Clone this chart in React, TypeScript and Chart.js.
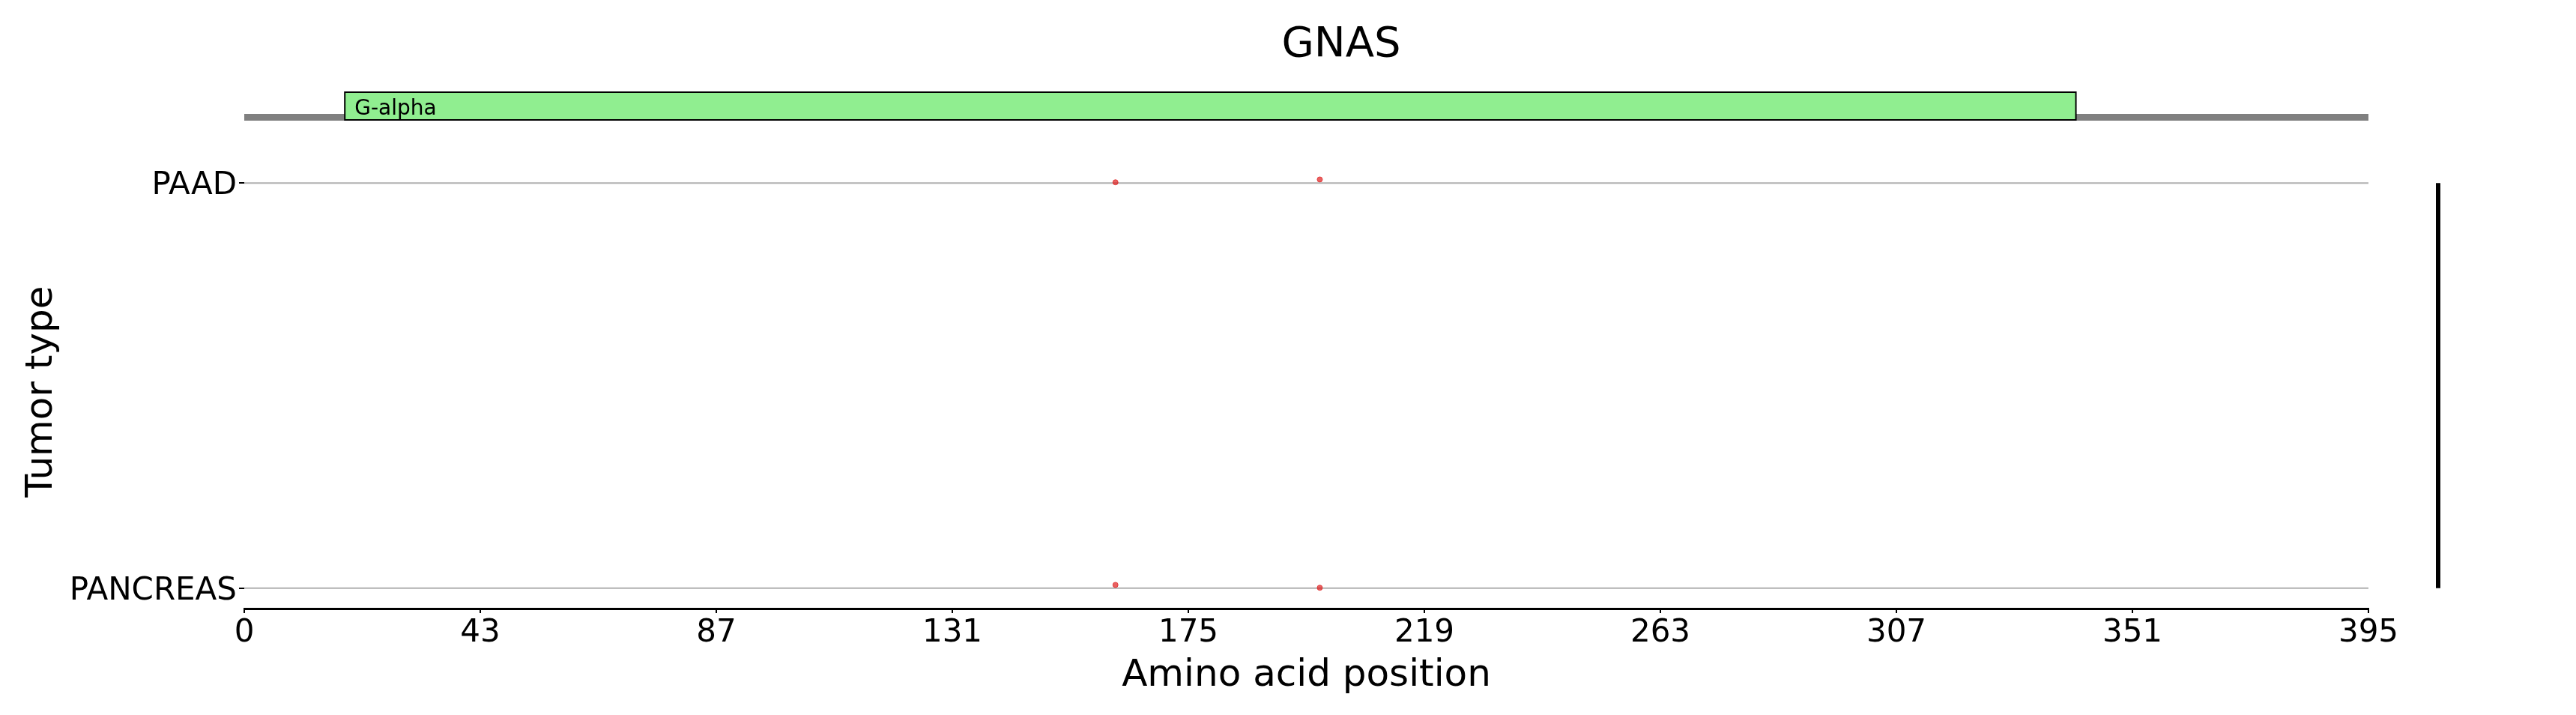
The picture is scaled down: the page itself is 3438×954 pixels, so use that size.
import React, { useEffect, useRef } from 'react';
import { Chart, registerables } from 'chart.js';
Chart.register(...registerables);

// ---------- data ----------
const GENE = 'GNAS';
const PROTEIN_LENGTH = 395;
const DOMAIN_NAMES = ['G-alpha'];
const DOMAIN_STARTS = [18.7];
const DOMAIN_ENDS = [340.6];
const TUMOR_TYPES = ['PAAD', 'PANCREAS'];
const PAAD_POSITIONS = [162, 200];
const PAAD_JITTER = [-0.002, -0.009];
const PANCREAS_POSITIONS = [162, 200];
const PANCREAS_JITTER = [-0.008, -0.001];
const X_TICK_LABELS = ['0', '43', '87', '131', '175', '219', '263', '307', '351', '395'];
const X_TITLE = 'Amino acid position';
const Y_TITLE = 'Tumor type';

const FONT = "'DejaVu Sans', sans-serif";
const POINT_COLOR = 'rgba(222, 30, 30, 0.7)';

const overlayPlugin = {
  id: 'overlay',
  afterDraw(chart: any) {
    const ctx = chart.ctx;
    const area = chart.chartArea;
    const xs = chart.scales.x;
    const ys = chart.scales.y;
    ctx.save();

    // protein backbone
    const bx0 = xs.getPixelForValue(0);
    const bx1 = xs.getPixelForValue(PROTEIN_LENGTH);
    ctx.fillStyle = '#808080';
    ctx.fillRect(bx0, area.top - 65, bx1 - bx0, 9);

    // domains
    DOMAIN_NAMES.forEach((name, i) => {
      const dx0 = xs.getPixelForValue(DOMAIN_STARTS[i]);
      const dx1 = xs.getPixelForValue(DOMAIN_ENDS[i]);
      const top = area.top - 94;
      const h = 37;
      ctx.fillStyle = '#90EE90';
      ctx.fillRect(dx0, top, dx1 - dx0, h);
      ctx.strokeStyle = '#000000';
      ctx.lineWidth = 2;
      ctx.strokeRect(dx0, top, dx1 - dx0, h);
      ctx.fillStyle = '#000000';
      ctx.font = `28px ${FONT}`;
      ctx.textAlign = 'left';
      ctx.textBaseline = 'alphabetic';
      ctx.fillText(name, dx0 + 13, top + 30);
    });

    // vertical scale bar on the right
    const vx = area.right + 93;
    ctx.strokeStyle = '#000000';
    ctx.lineWidth = 6;
    ctx.lineCap = 'butt';
    ctx.beginPath();
    ctx.moveTo(vx, ys.getPixelForValue(0));
    ctx.lineTo(vx, ys.getPixelForValue(TUMOR_TYPES.length - 1));
    ctx.stroke();

    // title
    ctx.fillStyle = '#000000';
    ctx.font = `56px ${FONT}`;
    ctx.textAlign = 'center';
    ctx.textBaseline = 'alphabetic';
    ctx.fillText(GENE, (area.left + vx) / 2, 75);

    // x title
    ctx.font = `50px ${FONT}`;
    ctx.fillText(X_TITLE, (area.left + area.right) / 2, 915);

    // y title
    ctx.translate(69, (ys.getPixelForValue(0) + ys.getPixelForValue(TUMOR_TYPES.length - 1)) / 2 + 8);
    ctx.rotate(-Math.PI / 2);
    ctx.fillText(Y_TITLE, 0, 0);

    ctx.restore();
  },
};

export default function App() {
  const canvasRef = useRef<HTMLCanvasElement | null>(null);

  useEffect(() => {
    document.body.style.margin = '0';
    document.body.style.overflow = 'hidden';
    const canvas = canvasRef.current;
    if (!canvas) return;

    const paadPts = PAAD_POSITIONS.map((p, i) => ({ x: p, y: 0 + PAAD_JITTER[i] }));
    const pancPts = PANCREAS_POSITIONS.map((p, i) => ({ x: p, y: 1 + PANCREAS_JITTER[i] }));

    const laneDatasets = TUMOR_TYPES.map((t, i) => ({
      type: 'line' as const,
      label: t + ' lane',
      data: [
        { x: 0, y: i },
        { x: PROTEIN_LENGTH, y: i },
      ],
      borderColor: '#b0b0b0',
      borderWidth: 2,
      pointRadius: 0,
      fill: false,
    }));

    const chart = new Chart(canvas, {
      type: 'scatter',
      data: {
        datasets: [
          {
            label: 'PAAD',
            data: paadPts,
            backgroundColor: POINT_COLOR,
            borderColor: POINT_COLOR,
            borderWidth: 1,
            pointRadius: 3.5,
          },
          {
            label: 'PANCREAS',
            data: pancPts,
            backgroundColor: POINT_COLOR,
            borderColor: POINT_COLOR,
            borderWidth: 1,
            pointRadius: 3.5,
          },
          ...(laneDatasets as any[]),
        ],
      },
      options: {
        animation: false,
        responsive: false,
        devicePixelRatio: 1,
        layout: { padding: { top: 217, right: 277, left: 0, bottom: 0 } },
        plugins: {
          legend: { display: false },
          tooltip: { enabled: false },
          title: { display: false },
        },
        scales: {
          x: {
            type: 'linear',
            position: 'bottom',
            min: 0,
            max: PROTEIN_LENGTH,
            afterBuildTicks: (scale: any) => {
              scale.ticks = X_TICK_LABELS.map((_, i) => ({
                value: (i * PROTEIN_LENGTH) / (X_TICK_LABELS.length - 1),
              }));
            },
            afterFit: (scale: any) => {
              scale.height = 142;
            },
            ticks: {
              autoSkip: false,
              maxRotation: 0,
              minRotation: 0,
              padding: 2,
              color: '#000000',
              font: { family: FONT, size: 42 },
              callback: (_v: any, i: number) => X_TICK_LABELS[i],
            },
            grid: {
              drawOnChartArea: false,
              drawTicks: true,
              tickLength: 6,
              color: '#000000',
              lineWidth: 2,
            },
            border: { display: true, color: '#000000', width: 3 },
          },
          y: {
            type: 'linear',
            position: 'left',
            reverse: true,
            min: -0.0505,
            max: 1.0505,
            afterBuildTicks: (scale: any) => {
              scale.ticks = TUMOR_TYPES.map((_, i) => ({ value: i }));
            },
            afterFit: (scale: any) => {
              scale.width = 326;
            },
            ticks: {
              autoSkip: false,
              padding: 3,
              labelOffset: 4,
              color: '#000000',
              font: { family: FONT, size: 42 },
              callback: (_v: any, i: number) => TUMOR_TYPES[i],
            },
            grid: {
              drawOnChartArea: false,
              drawTicks: true,
              tickLength: 7,
              color: '#000000',
              lineWidth: 2,
            },
            border: { display: false },
          },
        },
      },
      plugins: [overlayPlugin],
    } as any);

    return () => {
      chart.destroy();
    };
  }, []);

  return (
    <div style={{ width: 3438, height: 954, background: '#ffffff' }}>
      <canvas ref={canvasRef} width={3438} height={954} style={{ display: 'block' }} />
    </div>
  );
}
